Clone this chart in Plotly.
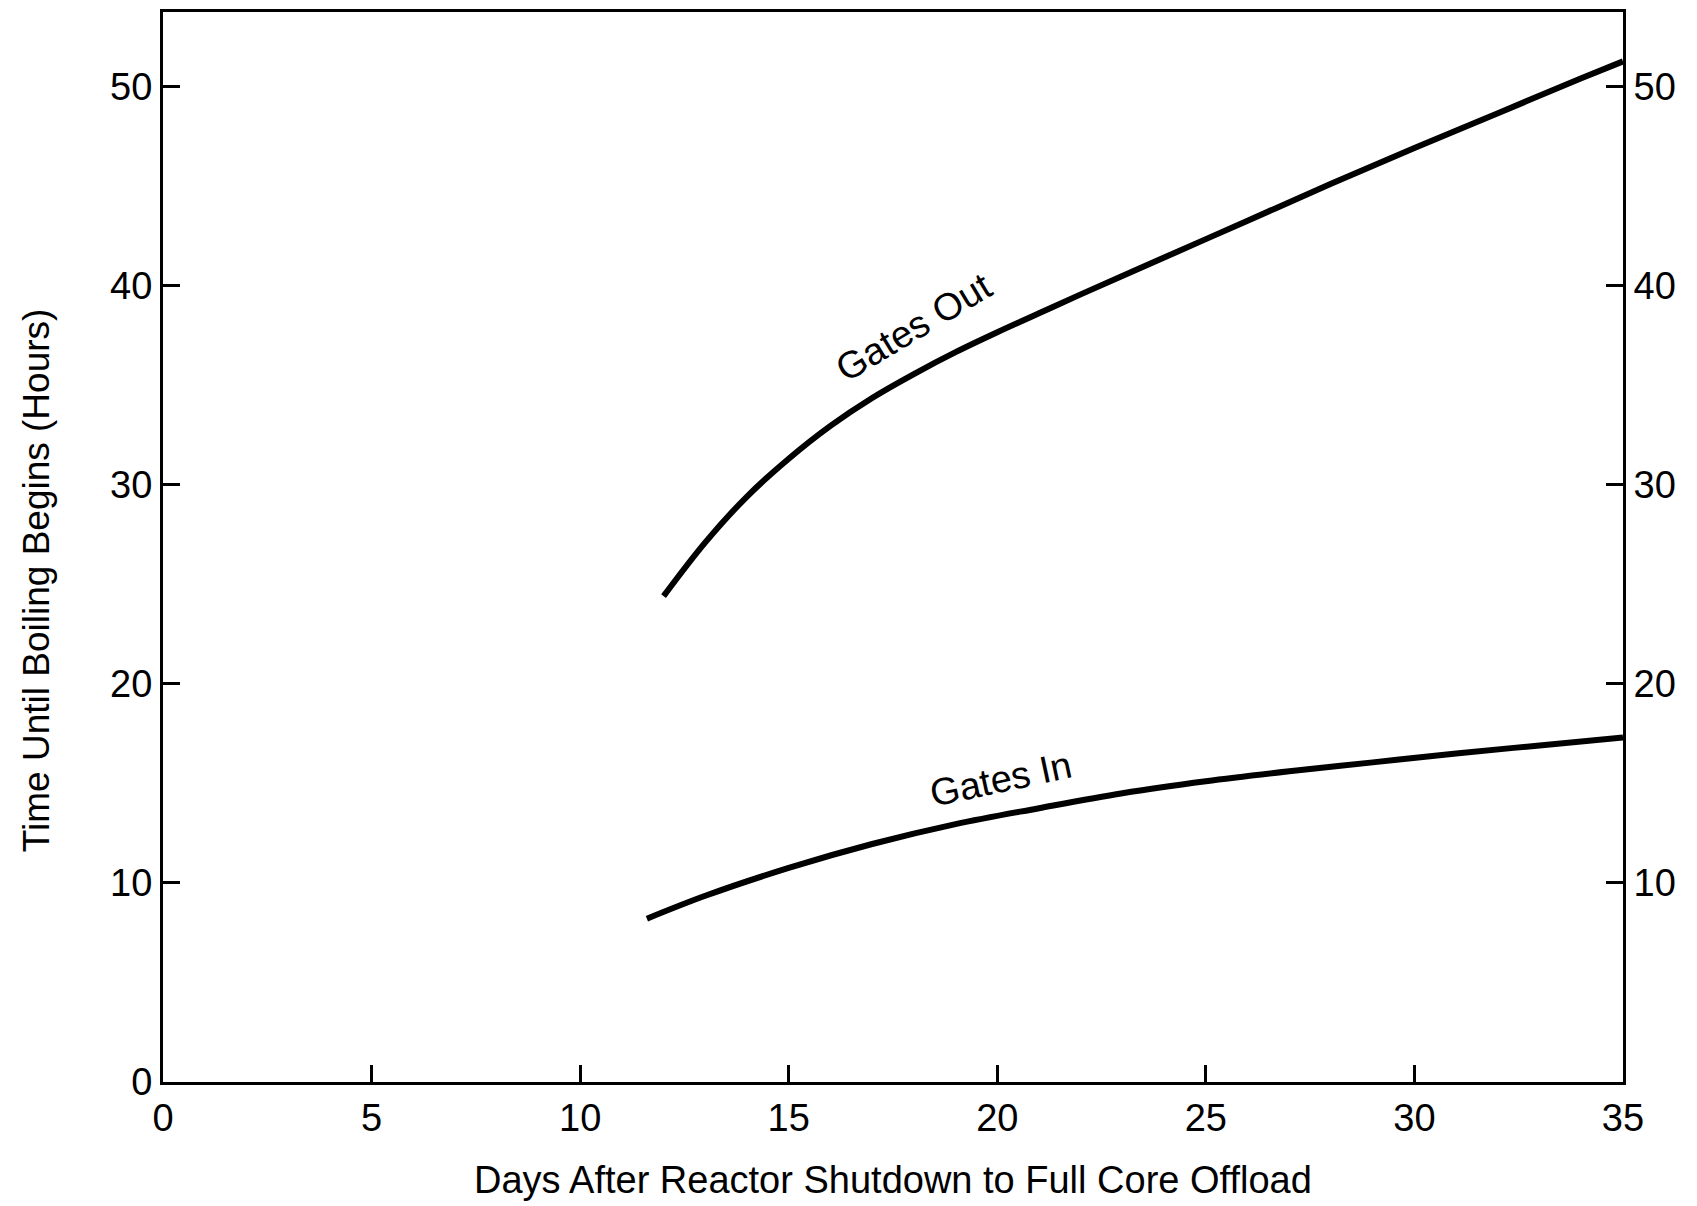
import plotly.graph_objects as go

# Data
gates_out_days = [12.0, 13, 14, 15, 16, 17, 18, 19, 20, 21, 22, 24, 26, 28, 30, 32, 34, 35]
gates_out_hours = [24.4, 27.1, 29.4, 31.3, 32.95, 34.35, 35.55, 36.65, 37.65, 38.6, 39.55, 41.4, 43.25, 45.1, 46.9, 48.65, 50.4, 51.25]

gates_in_days = [11.6, 13, 15, 17, 19, 21, 23, 25, 27, 29, 31, 33, 35]
gates_in_hours = [8.2, 9.35, 10.75, 11.95, 12.95, 13.75, 14.5, 15.1, 15.6, 16.05, 16.5, 16.9, 17.3]

x_ticks = [0, 5, 10, 15, 20, 25, 30, 35]
y_ticks_left = [0, 10, 20, 30, 40, 50]
y_ticks_right = [10, 20, 30, 40, 50]

FONT = "Liberation Sans, Arial, Helvetica, sans-serif"

fig = go.Figure()
fig.add_trace(go.Scatter(x=gates_out_days, y=gates_out_hours, mode="lines",
                         line=dict(color="black", width=6, shape="spline", smoothing=1.0),
                         name="Gates Out", showlegend=False))
fig.add_trace(go.Scatter(x=gates_in_days, y=gates_in_hours, mode="lines",
                         line=dict(color="black", width=6, shape="spline", smoothing=1.0),
                         name="Gates In", showlegend=False))
fig.add_trace(go.Scatter(x=[None], y=[None], yaxis="y2", showlegend=False, hoverinfo="skip"))

fig.add_annotation(x=18.0, y=37.9, text="Gates Out", showarrow=False, textangle=-31,
                   font=dict(family=FONT, size=38, color="black"))
fig.add_annotation(x=20.1, y=15.2, text="Gates In", showarrow=False, textangle=-12,
                   font=dict(family=FONT, size=38, color="black"))

# Axis titles placed as annotations in paper coordinates
fig.add_annotation(xref="paper", yref="paper", x=0.4997, y=-0.0915, yanchor="middle",
                   text="Days After Reactor Shutdown to Full Core Offload", showarrow=False,
                   font=dict(family=FONT, size=38, color="black"))
fig.add_annotation(xref="paper", yref="paper", x=-0.087, y=0.469, xanchor="center", yanchor="middle",
                   text="Time Until Boiling Begins (Hours)", showarrow=False, textangle=-90,
                   font=dict(family=FONT, size=37, color="black"))

axis_common = dict(showgrid=False, zeroline=False, showline=True, linecolor="black", linewidth=3,
                   ticks="inside", ticklen=17, tickwidth=3, tickcolor="black",
                   tickfont=dict(family=FONT, size=38, color="black"))

fig.update_layout(
    width=1697, height=1206,
    margin=dict(l=163, r=74, t=9, b=124),
    paper_bgcolor="white", plot_bgcolor="white",
    xaxis=dict(range=[0, 35], tickvals=x_ticks, mirror=True, **axis_common),
    yaxis=dict(range=[0, 53.73], tickvals=y_ticks_left, **axis_common),
    yaxis2=dict(range=[0, 53.73], tickvals=y_ticks_right, overlaying="y", side="right",
                **axis_common),
)

fig.write_html("out.html", config={"displayModeBar": False},
               post_script="document.body.style.margin='0';document.body.style.overflow='hidden';")
